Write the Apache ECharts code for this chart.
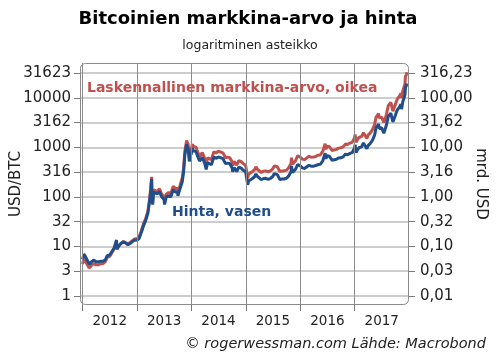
<!DOCTYPE html>
<html><head><meta charset="utf-8">
<script src="https://cdn.jsdelivr.net/npm/echarts@6/dist/echarts.min.js"></script>
<style>html,body{margin:0;padding:0;background:#fff}#c{width:496px;height:361px}</style>
</head><body><div id="c"></div>
<script>
const dates = [
'2012-01-01','2012-01-10','2012-01-20','2012-02-01','2012-02-15','2012-02-20','2012-03-01','2012-03-15','2012-04-01','2012-04-15','2012-05-01','2012-05-15','2012-06-01','2012-06-15','2012-07-01','2012-07-15','2012-08-01','2012-08-16','2012-08-19','2012-09-01','2012-09-15','2012-10-01','2012-10-15','2012-11-01','2012-11-15','2012-12-01','2012-12-15',
'2013-01-01','2013-01-15','2013-02-01','2013-02-15','2013-03-01','2013-03-15','2013-03-28','2013-04-03','2013-04-09','2013-04-11','2013-04-16','2013-04-22','2013-05-01','2013-05-15','2013-06-01','2013-06-15','2013-07-01','2013-07-05','2013-07-15','2013-08-01','2013-08-15','2013-09-01','2013-09-15','2013-10-01','2013-10-02','2013-10-15','2013-11-01','2013-11-10','2013-11-18','2013-11-30','2013-12-04','2013-12-10','2013-12-18','2013-12-25',
'2014-01-01','2014-01-07','2014-01-15','2014-02-01','2014-02-10','2014-02-25','2014-03-01','2014-03-15','2014-04-01','2014-04-10','2014-04-20','2014-05-01','2014-05-15','2014-06-01','2014-06-15','2014-07-01','2014-07-15','2014-08-01','2014-08-18','2014-09-01','2014-09-15','2014-10-01','2014-10-05','2014-10-15','2014-11-01','2014-11-15','2014-12-01','2014-12-15','2014-12-31',
'2015-01-01','2015-01-14','2015-01-20','2015-02-01','2015-02-15','2015-03-01','2015-03-10','2015-03-20','2015-04-01','2015-04-15','2015-05-01','2015-05-15','2015-06-01','2015-06-15','2015-07-01','2015-07-12','2015-07-20','2015-08-01','2015-08-18','2015-09-01','2015-09-15','2015-10-01','2015-10-15','2015-11-01','2015-11-04','2015-11-11','2015-11-20','2015-12-01','2015-12-15','2015-12-31',
'2016-01-01','2016-01-15','2016-02-01','2016-02-15','2016-03-01','2016-03-15','2016-04-01','2016-04-15','2016-05-01','2016-05-15','2016-06-01','2016-06-17','2016-06-22','2016-07-01','2016-07-15','2016-08-02','2016-08-15','2016-09-01','2016-09-15','2016-10-01','2016-10-15','2016-11-01','2016-11-15','2016-12-01','2016-12-15','2016-12-31',
'2017-01-04','2017-01-11','2017-01-20','2017-02-01','2017-02-15','2017-03-01','2017-03-10','2017-03-24','2017-04-01','2017-04-15','2017-05-01','2017-05-15','2017-05-25','2017-06-01','2017-06-11','2017-06-15','2017-07-01','2017-07-16','2017-08-01','2017-08-15','2017-09-01','2017-09-15','2017-10-01','2017-10-12','2017-10-20','2017-11-01','2017-11-08','2017-11-12','2017-11-20','2017-11-29','2017-12-05','2017-12-08','2017-12-15','2017-12-17'
];
// Hinta, USD/BTC (left axis)
const price = [
5.5,7.0,6.3,5.9,4.4,4.3,4.9,5.3,4.9,4.9,5.0,5.0,5.3,6.5,6.7,7.8,9.4,13.5,9.0,10.3,11.5,12.4,11.8,10.8,11.5,12.5,13.4,
13.5,14.5,20,27,34,47,90,135,230,100,70,125,120,115,128,100,88,70,98,105,100,140,126,125,105,140,205,330,700,1150,1150,950,520,680,
750,950,850,820,680,530,560,630,470,360,490,450,445,640,600,640,620,590,470,480,470,385,320,390,325,400,380,345,320,
315,175,210,225,235,255,290,260,245,222,235,237,225,235,258,295,275,282,225,230,230,237,262,320,420,310,325,360,450,430,
432,385,375,405,435,415,417,430,450,455,535,760,590,675,665,550,570,575,610,615,640,730,710,755,780,965,
1130,780,895,990,1010,1220,1190,935,1080,1190,1400,1760,2500,2400,2950,2400,2480,1930,2720,4200,4900,3250,4400,5450,6000,6700,7400,5900,8200,10000,11700,16000,17800,19500
];
// Laskennallinen markkina-arvo, mrd. USD (right axis)
const marketCap = [
0.044,0.056,0.050,0.049,0.0365,0.0357,0.0417,0.045,0.0426,0.0426,0.0445,0.0445,0.0488,0.060,0.063,0.0733,0.090,0.130,0.0864,0.102,0.114,0.125,0.119,0.112,0.120,0.131,0.141,
0.144,0.155,0.218,0.294,0.374,0.517,0.99,1.50,2.55,1.11,0.777,1.39,1.34,1.29,1.46,1.14,1.01,0.805,1.13,1.22,1.16,1.64,1.47,1.475,1.24,1.65,2.44,3.93,8.33,13.7,13.9,11.5,6.29,8.23,
9.15,11.6,10.4,10.1,8.36,6.52,6.97,7.84,5.92,4.54,6.17,5.72,5.65,8.19,7.68,8.32,8.06,7.73,6.16,6.34,6.20,5.14,4.27,5.21,4.39,5.40,5.17,4.69,4.35,
4.32,2.40,2.88,3.11,3.24,3.54,4.03,3.61,3.43,3.11,3.31,3.34,3.20,3.34,3.69,4.22,3.93,4.06,3.24,3.34,3.34,3.46,3.83,4.70,6.17,4.56,4.78,5.36,6.71,6.41,
6.48,5.78,5.66,6.12,6.61,6.31,6.38,6.58,6.93,7.01,8.29,11.8,9.15,10.5,10.4,8.64,8.95,9.09,9.64,9.78,10.2,11.7,11.4,12.2,12.6,15.5,
18.2,12.6,14.4,16.0,16.3,19.8,19.3,15.1,17.6,19.3,22.8,28.7,40.8,39.2,48.2,39.2,40.7,31.7,44.7,69.1,80.9,53.6,73.0,90.5,99.6,111.6,123.2,98.2,136.5,166.5,196,268,298,327
];
const leftTicks = [1, 3.1623, 10, 31.623, 100, 316.23, 1000, 3162.3, 10000, 31623];
const leftTickLabels = ['1','3','10','32','100','316','1000','3162','10000','31623'];
const rightTicks = [0.01, 0.031623, 0.1, 0.31623, 1, 3.1623, 10, 31.623, 100, 316.23];
const rightTickLabels = ['0,01','0,03','0,10','0,32','1,00','3,16','10,00','31,62','100,00','316,23'];
const yearTicks = ['2012-01-01','2013-01-01','2014-01-01','2015-01-01','2016-01-01','2017-01-01'];
const yearLabelDates = ['2012-07-02','2013-07-02','2014-07-02','2015-07-02','2016-07-02','2017-07-02'];
const yearLabels = ['2012','2013','2014','2015','2016','2017'];

const FONT = 'DejaVu Sans';
const toTime = d => Date.parse(d + 'T00:00:00Z');
function logLabel(ticks, labels) {
  return function (v) {
    for (let i = 0; i < ticks.length; i++) {
      if (Math.abs(Math.log10(v) - Math.log10(ticks[i])) < 0.01) return labels[i];
    }
    return '';
  };
}
const labelTimes = yearLabelDates.map(toTime);
const tickTimes = yearTicks.map(toTime);
function yearLabel(v) {
  let best = 0, bd = Infinity;
  for (let i = 0; i < labelTimes.length; i++) {
    const d = Math.abs(labelTimes[i] - v);
    if (d < bd) { bd = d; best = i; }
  }
  return yearLabels[best];
}

const chart = echarts.init(document.getElementById('c'), null, {renderer: 'canvas'});
chart.setOption({
  animation: false,
  backgroundColor: '#fff',
  textStyle: {fontFamily: FONT},
  grid: {left: 80, right: 87, top: 63, bottom: 56, containLabel: false, outerBoundsMode: 'none'},
  xAxis: {
    type: 'value',
    min: toTime('2011-12-15'),
    max: toTime('2018-01-01'),
    axisLine: {show: false},
    axisTick: {show: true, customValues: tickTimes, length: 6, lineStyle: {color: '#777'}},
    splitLine: {show: false},
    axisLabel: {customValues: labelTimes, formatter: yearLabel, color: '#222', fontSize: 13.5, margin: 9, fontFamily: FONT}
  },
  yAxis: [
    {
      type: 'log', logBase: 10, min: 0.658, max: 50350,
      name: 'USD/BTC', nameLocation: 'middle', nameRotate: 90, nameGap: 56, nameMoveOverlap: false,
      nameTextStyle: {fontSize: 15, color: '#222', fontFamily: FONT},
      axisLine: {show: false},
      axisTick: {show: true, customValues: leftTicks, length: 6, lineStyle: {color: '#777'}},
      splitLine: {show: true, lineStyle: {color: '#bdbdbd', width: 1.5}},
      axisLabel: {customValues: leftTicks, formatter: logLabel(leftTicks, leftTickLabels), color: '#222', fontSize: 15, margin: 9, fontFamily: FONT}
    },
    {
      type: 'log', logBase: 10, min: 0.00658, max: 503.5,
      position: 'right',
      name: 'mrd. USD', nameLocation: 'middle', nameRotate: -90, nameGap: 64, nameMoveOverlap: false,
      nameTextStyle: {fontSize: 15, color: '#222', fontFamily: FONT},
      axisLine: {show: false},
      axisTick: {show: true, customValues: rightTicks, length: 6, lineStyle: {color: '#777'}},
      splitLine: {show: false},
      axisLabel: {customValues: rightTicks, formatter: logLabel(rightTicks, rightTickLabels), color: '#222', fontSize: 15, margin: 11, fontFamily: FONT}
    }
  ],
  series: [
    {
      name: 'vuodet', type: 'line', yAxisIndex: 0, data: [], z: 1, silent: true,
      markLine: {
        silent: true, symbol: 'none', label: {show: false},
        lineStyle: {color: '#8c8c8c', width: 1, type: 'solid'},
        data: tickTimes.map(t => ({xAxis: t}))
      }
    },
    {
      name: 'Laskennallinen markkina-arvo, oikea', type: 'line', yAxisIndex: 1,
      data: dates.map((d, i) => [toTime(d), marketCap[i]]),
      showSymbol: false, symbol: 'none', clip: false,
      lineStyle: {color: '#c0504d', width: 3}, z: 3
    },
    {
      name: 'Hinta, vasen', type: 'line', yAxisIndex: 0,
      data: dates.map((d, i) => [toTime(d), price[i]]),
      showSymbol: false, symbol: 'none', clip: false,
      lineStyle: {color: '#1f4e8a', width: 3}, z: 4
    }
  ],
  graphic: [
    {type: 'rect', shape: {x: 80.5, y: 63.5, width: 328, height: 241, r: 5}, style: {fill: null, stroke: '#8a8a8a', lineWidth: 1}, z: 10, silent: true},
    {type: 'text', x: 248, y: 19, style: {text: 'Bitcoinien markkina-arvo ja hinta', font: 'bold 18px "DejaVu Sans"', fill: '#000', textAlign: 'center', textVerticalAlign: 'middle'}},
    {type: 'text', x: 250, y: 46, style: {text: 'logaritminen asteikko', font: '12.5px "DejaVu Sans"', fill: '#222', textAlign: 'center', textVerticalAlign: 'middle'}},
    {type: 'text', x: 87, y: 88, style: {text: 'Laskennallinen markkina-arvo, oikea', font: 'bold 14px "DejaVu Sans"', fill: '#c0504d', textAlign: 'left', textVerticalAlign: 'middle'}, z: 11},
    {type: 'text', x: 172, y: 212, style: {text: 'Hinta, vasen', font: 'bold 14px "DejaVu Sans"', fill: '#1f4e8a', textAlign: 'left', textVerticalAlign: 'middle'}, z: 11},
    {type: 'text', x: 486, y: 344, style: {text: '© rogerwessman.com Lähde: Macrobond', font: 'italic 14.5px "DejaVu Sans"', fill: '#222', textAlign: 'right', textVerticalAlign: 'middle'}}
  ]
});
</script>
</body></html>
